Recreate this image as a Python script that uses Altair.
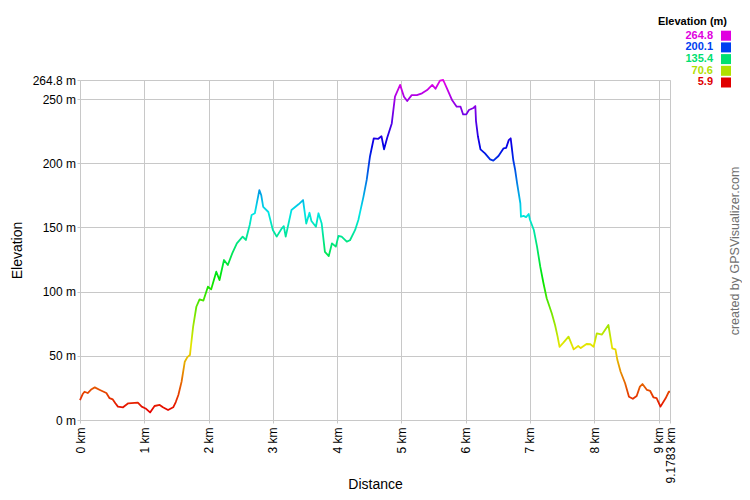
import altair as alt
import pandas as pd

dist = [0.00, 0.04, 0.07, 0.12, 0.18, 0.23, 0.31, 0.41, 0.46, 0.51, 0.55, 0.59, 0.67, 0.75, 0.90, 0.96,
        1.02, 1.09, 1.16, 1.24, 1.29, 1.37, 1.45, 1.49, 1.53, 1.58, 1.63, 1.67, 1.71, 1.76, 1.81, 1.86,
        1.92, 1.99, 2.04, 2.12, 2.17, 2.24, 2.30, 2.37, 2.44, 2.53, 2.58, 2.64, 2.67, 2.72, 2.79, 2.82,
        2.85, 2.93, 3.00, 3.06, 3.14, 3.17, 3.20, 3.29, 3.40, 3.47, 3.52, 3.57, 3.60, 3.67, 3.71, 3.76,
        3.81, 3.87, 3.92, 3.98, 4.02, 4.07, 4.15, 4.20, 4.28, 4.33, 4.41, 4.46, 4.51, 4.57, 4.64, 4.69,
        4.73, 4.78, 4.85, 4.90, 4.98, 5.04, 5.09, 5.16, 5.24, 5.32, 5.40, 5.48, 5.53, 5.60, 5.65, 5.71,
        5.79, 5.86, 5.92, 5.96, 6.01, 6.05, 6.12, 6.15, 6.16, 6.19, 6.23, 6.30, 6.38, 6.43, 6.51, 6.59,
        6.63, 6.67, 6.70, 6.74, 6.77, 6.80, 6.85, 6.86, 6.90, 6.94, 6.98, 7.00, 7.06, 7.11, 7.16, 7.21,
        7.26, 7.34, 7.39, 7.43, 7.46, 7.52, 7.60, 7.68, 7.75, 7.79, 7.88, 7.94, 7.99, 8.04, 8.12, 8.22,
        8.28, 8.33, 8.36, 8.41, 8.48, 8.54, 8.60, 8.66, 8.71, 8.75, 8.82, 8.87, 8.92, 8.97, 9.03, 9.11,
        9.16, 9.1783]
elev = [15.5, 20, 22, 21, 24, 25.4, 23.4, 21, 17, 16, 13, 10.4, 9.9, 13, 13.5, 10.4,
        9, 5.9, 10.9, 11.7, 9.9, 7.8, 9.9, 14, 19.5, 29.8, 45.4, 49, 50.6, 72.7, 88.2, 94,
        93, 103.8, 101.7, 115.5, 109, 124.6, 120.7, 130, 137.6, 142.8, 140.2, 151.9, 159.7, 161, 179, 175,
        166, 162, 148, 142.8, 149.3, 151, 142.8, 163.6, 168, 171.3, 153, 161.4, 155, 150.5, 161, 153,
        131, 127.7, 137.6, 135, 143.3, 142.8, 138.9, 140, 148, 155.8, 174, 187, 205, 219.4, 219, 221,
        210.8, 220, 231, 251.8, 261, 251.8, 248.4, 253, 253, 254.4, 257, 261, 258, 264.3, 264.8, 258,
        249, 244, 244, 238, 238, 241.4, 243, 244.5, 233, 221, 210.8, 207.7, 203, 202, 205.6, 211.6,
        212, 218, 219.4, 202.5, 194.7, 184.3, 168.8, 158.3, 159, 158, 160.4, 156, 148, 135, 119.4, 106.5,
        94.8, 83, 74, 64.9, 57, 60.2, 64.9, 55, 57.6, 56, 59.2, 59, 57, 67.5, 66.5, 74,
        55.8, 55, 46.7, 37.6, 28.6, 18.1, 16.5, 18.7, 26, 28, 23.4, 22.6, 17.7, 17, 10.4, 16.9,
        22, 22]

x_ticks = [0, 1, 2, 3, 4, 5, 6, 7, 8, 9, 9.1783]
y_ticks = [0, 50, 100, 150, 200, 250, 264.8]

legend_values = ["264.8", "200.1", "135.4", "70.6", "5.9"]
legend_colors = ["#e000e0", "#0040f0", "#00e070", "#b0e000", "#e00000"]

gradient_offsets = [0, 0.2, 0.4, 0.6, 0.8, 1.0]
gradient_colors = ["#e60000", "#e6e600", "#00e600", "#00e6e6", "#0000e6", "#e600e6"]

FONT = "Arial, Liberation Sans, sans-serif"
GRID = "#c8c8c8"

df = pd.DataFrame({"dist": dist, "elev": elev})

grad = alt.LinearGradient(
    gradient="linear",
    stops=[alt.GradientStop(offset=o, color=c) for o, c in zip(gradient_offsets, gradient_colors)],
    x1=0, x2=0, y1=1, y2=0,
)

line = alt.Chart(df).mark_line(color=grad, strokeWidth=1.8, strokeJoin="round").encode(
    x=alt.X("dist:Q",
            scale=alt.Scale(domain=[0, 9.1783], nice=False, zero=False),
            axis=alt.Axis(values=x_ticks, labelExpr="datum.value + ' km'", labelAngle=270,
                          labelOverlap=False, labelFlush=False, grid=True, gridColor=GRID,
                          domain=False, tickColor=GRID, tickSize=3, labelPadding=4,
                          labelFont=FONT, labelFontSize=12, labelColor="#000",
                          title="Distance", titleFont=FONT, titleFontSize=14,
                          titleFontWeight="normal", titleColor="#000", titleY=68,
                          titleBaseline="alphabetic")),
    y=alt.Y("elev:Q",
            scale=alt.Scale(domain=[0, 264.8], nice=False, zero=True),
            axis=alt.Axis(values=y_ticks, labelExpr="datum.value + ' m'",
                          labelOverlap=False, labelFlush=False, grid=True, gridColor=GRID,
                          domain=False, tickColor=GRID, tickSize=3, labelPadding=1.5,
                          labelFont=FONT, labelFontSize=12, labelColor="#000",
                          title="Elevation", titleFont=FONT, titleFontSize=14,
                          titleFontWeight="normal", titleColor="#000", titleX=-63, titleY=170,
                          titleAngle=270, titleBaseline="middle", titleAlign="center")),
)

layers = [line]

layers.append(
    alt.Chart(pd.DataFrame({"t": ["Elevation (m)"]})).mark_text(
        font=FONT, fontSize=11, fontWeight="bold", align="right", baseline="alphabetic", color="#000"
    ).encode(text="t:N", x=alt.value(647), y=alt.value(-55.5))
)

for i, (v, c) in enumerate(zip(legend_values, legend_colors)):
    layers.append(
        alt.Chart(pd.DataFrame({"t": [v]})).mark_text(
            font=FONT, fontSize=11, fontWeight="bold", align="right", baseline="alphabetic", color=c
        ).encode(text="t:N", x=alt.value(633), y=alt.value(-41.5 + i * 11.7))
    )
    layers.append(
        alt.Chart(pd.DataFrame({"t": [v]})).mark_square(size=100, color=c, opacity=1).encode(
            x=alt.value(646), y=alt.value(-44.3 + i * 11.7)
        )
    )

layers.append(
    alt.Chart(pd.DataFrame({"t": ["created by GPSVisualizer.com"]})).mark_text(
        font=FONT, fontSize=12.5, angle=270, align="center", baseline="alphabetic", color="#707070"
    ).encode(text="t:N", x=alt.value(658.5), y=alt.value(171))
)

chart = alt.layer(*layers).properties(
    width=590, height=340,
    autosize=alt.AutoSizeParams(type="none"),
    padding={"left": 72, "top": 72, "right": 72, "bottom": 72},
).configure_view(strokeWidth=0).configure(background="white")

chart.save("out.html", embed_options={"renderer": "svg", "actions": False})
